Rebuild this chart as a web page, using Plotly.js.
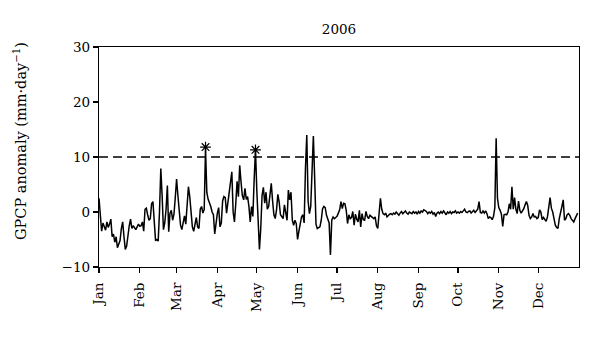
<!DOCTYPE html>
<html>
<head>
<meta charset="utf-8">
<script src="https://cdn.plot.ly/plotly-3.0.1.min.js"></script>
<style>html,body{margin:0;padding:0;background:#fff;}#chart{width:600px;height:337px;}</style>
</head>
<body>
<div id="chart"></div>
<script>
// Daily GPCP anomaly (mm/day), 2006, by month
const jan = [2.5,-1.0,-3.5,-2.0,-2.5,-3.3,-1.8,-2.8,-2.2,-1.3,-4.5,-4.0,-5.5,-4.5,-6.5,-6.0,-5.2,-3.0,-1.8,-4.5,-6.8,-6.2,-4.0,-2.5,-1.3,-3.0,-2.5,-2.9,-3.2,-2.7,-2.2];
const feb = [-2.6,-2.5,-1.8,-3.5,0.5,0.7,-0.5,-1.5,-1.2,1.5,1.9,-1.2,-5.2,-5.0,-5.3,0.0,7.9,3.0,-3.2,-2.0,0.5,4.8,-3.6,-0.2,0.3,-1.5,-0.4,2.6];
const mar = [6.0,3.0,-0.5,-2.4,-3.2,-1.5,-0.7,-2.2,0.7,4.6,2.8,0.5,-2.7,-3.5,-2.0,-1.0,-2.7,-3.0,0.5,1.0,-0.2,0.5,11.5,3.5,2.3,1.8,1.0,0.0,-0.5,-4.0,-2.0];
const apr = [-0.2,0.8,-2.7,-2.0,2.0,2.8,2.6,-0.2,1.6,3.5,5.5,7.3,0.0,-1.8,1.5,5.6,2.8,8.5,5.5,3.0,2.2,4.3,2.3,2.8,1.0,-1.8,1.0,-0.8,6.0,11.3];
const may = [3.9,-3.5,-6.8,-3.0,3.0,4.5,1.6,3.6,0.5,1.0,2.8,5.2,2.0,-0.5,-1.2,0.4,3.2,1.8,-0.5,-1.0,-1.2,1.3,-0.5,-1.5,4.0,2.2,3.6,-1.5,-2.4,-1.5,-2.1];
const jun = [-5.0,-3.5,-2.3,-0.9,-0.5,-2.0,8.0,14.0,2.0,-0.3,1.0,8.0,13.8,6.2,-2.2,-3.0,-2.8,-2.7,-1.5,0.6,1.0,0.8,-0.6,-1.5,-2.0,-7.8,-1.5,-0.9,-1.2,-1.0];
const jul = [-0.8,-0.2,0.4,1.9,0.6,1.6,1.5,0.3,-2.1,-0.5,-1.2,-1.0,0.1,-2.4,-0.4,-1.3,-1.8,0.3,-2.7,-0.3,-1.4,-1.5,0.1,-0.8,-1.2,-0.6,-0.8,-1.1,-1.2,-0.9,-2.5];
const aug = [-3.0,0.0,2.5,0.5,-0.3,-0.5,-0.2,-0.9,-0.6,-0.4,-0.3,-0.5,-0.2,-0.4,0.0,-0.3,-0.6,-0.2,0.1,-0.3,-0.1,0.2,-0.2,-0.4,0.0,-0.1,-0.3,0.1,-0.2,0.0,-0.4];
const sep = [0.1,-0.2,0.2,0.0,0.4,0.3,0.1,-0.3,0.0,-0.2,0.1,-0.4,-0.1,-0.8,-0.2,0.0,-0.3,0.1,-0.2,0.2,-0.1,-0.5,0.0,-0.2,0.1,-0.3,0.0,-0.1,0.2,-0.2];
const oct = [0.0,-0.2,0.1,-0.1,0.2,0.5,0.0,-0.1,0.1,0.2,-0.2,0.0,0.3,-0.1,0.2,0.5,1.9,-0.1,-0.2,0.2,-0.2,0.2,-0.3,-1.2,-0.9,-1.0,-1.4,-0.8,0.8,13.4,2.5];
const nov = [0.8,0.3,-0.4,-2.6,-0.5,-0.4,-0.5,0.0,1.5,0.5,4.6,0.5,2.6,0.5,-0.3,2.0,0.3,-0.2,0.2,0.6,1.3,1.9,1.2,-0.6,-1.2,-0.9,-0.3,-0.9,-0.8,-1.2];
const dec = [-1.0,0.4,0.0,-1.4,-1.0,-1.3,-1.7,-0.9,1.0,2.6,0.7,0.0,-1.2,-2.4,-2.8,-3.0,-1.2,-0.3,1.0,2.2,-1.5,-1.2,-0.5,-0.3,-0.6,-1.2,-1.5,-1.8,-1.2,-0.8,-0.2];

const monthNames = ['Jan','Feb','Mar','Apr','May','Jun','Jul','Aug','Sep','Oct','Nov','Dec'];
const months = [jan,feb,mar,apr,may,jun,jul,aug,sep,oct,nov,dec];
const threshold = 10;
const starDays = [81, 119];      // day-of-year (0 = Jan 1) of marked events
const starValues = [11.8, 11.3];

const anomaly = [].concat(...months);
const days = anomaly.map((_, i) => i);
const monthStarts = [];
let acc = 0;
months.forEach(m => { monthStarts.push(acc); acc += m.length; });

const font = {family: 'DejaVu Serif, Liberation Serif, serif', size: 13.5, color: '#000'};
const titleFont = {family: 'DejaVu Serif, Liberation Serif, serif', size: 14.5, color: '#000'};

const traces = [
  {x: days, y: anomaly, type: 'scatter', mode: 'lines',
   line: {color: '#000', width: 1.5}, hoverinfo: 'skip'},
  {x: starDays, y: starValues, type: 'scatter', mode: 'markers',
   marker: {symbol: 'asterisk-open', size: 9, color: '#000', line: {color: '#000', width: 1.2}}}
];

const layout = {
  width: 600, height: 337,
  margin: {l: 99, r: 21, t: 47, b: 70},
  paper_bgcolor: '#fff', plot_bgcolor: '#fff',
  showlegend: false,
  font: font,
  title: {text: '2006', x: 0.5, xref: 'paper', y: 1 - 29/337, yref: 'container', yanchor: 'middle', font: font},
  xaxis: {
    range: [0, acc], tickmode: 'array', tickvals: monthStarts, ticktext: monthNames,
    tickangle: -90, ticks: 'outside', ticklen: 5, tickwidth: 1.2, tickcolor: '#000',
    ticklabelstandoff: 4,
    showline: true, linecolor: '#000', linewidth: 1.2, mirror: true,
    showgrid: false, zeroline: false, tickfont: font
  },
  yaxis: {
    range: [-10, 30], tickvals: [-10, 0, 10, 20, 30],
    ticks: 'outside', ticklen: 5, tickwidth: 1.2, tickcolor: '#000',
    showline: true, linecolor: '#000', linewidth: 1.2, mirror: true,
    showgrid: false, zeroline: false, tickfont: font
  },
  annotations: [{
    text: 'GPCP anomaly (mm·day<sup>−1</sup>)', textangle: -90, showarrow: false,
    xref: 'paper', yref: 'paper', x: (20 - 99) / 480, y: (267 - 141) / 220,
    xanchor: 'center', yanchor: 'middle', font: titleFont
  }],
  shapes: [{type: 'line', xref: 'x', yref: 'y', x0: 0, x1: acc, y0: threshold, y1: threshold,
            line: {color: '#000', width: 1.3, dash: '9px,5px'}}]
};

Plotly.newPlot('chart', traces, layout, {staticPlot: true, displayModeBar: false});
</script>
</body>
</html>
